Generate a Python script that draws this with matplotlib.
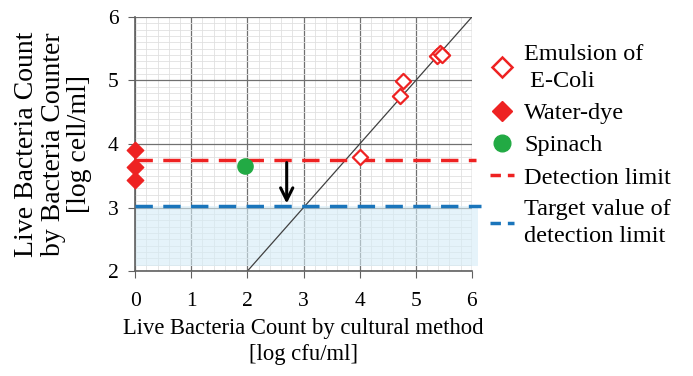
import matplotlib.pyplot as plt
from matplotlib.ticker import MultipleLocator
from matplotlib.lines import Line2D

plt.rcParams['font.family'] = ['Liberation Serif', 'DejaVu Serif']

# data
emul_x = [4.0, 4.72, 4.78, 5.38, 5.43, 5.47]
emul_y = [3.80, 4.75, 4.99, 5.39, 5.43, 5.40]
dye_x = [0, 0, 0]
dye_y = [3.90, 3.64, 3.43]
spin_x = [1.95]
spin_y = [3.66]
det_limit = 3.75
target_limit = 3.02
arrow_x = 2.7

fig = plt.figure(figsize=(6.93, 3.76), dpi=100)
ax = fig.add_axes([0.195, 0.279, 0.486, 0.676])
ax.set_xlim(0, 6)
ax.set_ylim(2, 6)
ax.xaxis.set_major_locator(MultipleLocator(1))
ax.yaxis.set_major_locator(MultipleLocator(1))
ax.xaxis.set_minor_locator(MultipleLocator(0.2))
ax.yaxis.set_minor_locator(MultipleLocator(0.1))
ax.grid(which='minor', color='#e0e0e0', lw=0.6)
ax.grid(which='major', color='#707070', lw=0.9)
ax.set_axisbelow(True)
for s in ['top', 'right']:
    ax.spines[s].set_visible(False)
for s in ['left', 'bottom']:
    ax.spines[s].set_color('#606060')
    ax.spines[s].set_linewidth(1.2)
ax.tick_params(which='major', direction='out', length=5, color='#606060', labelsize=15.5, pad=7)
ax.tick_params(axis='x', pad=10)
ax.tick_params(which='minor', length=0)

# shaded target region
ax.fill_between([0, 6.1], 2.08, target_limit, color='#d5ecf7', alpha=0.6, lw=0, clip_on=False, zorder=1)
# y = x
ax.plot([2, 6], [2, 6], color='#404040', lw=0.9, zorder=2)
ax.plot([0, 6.07], [det_limit, det_limit], color='#ee2222', lw=2.5, dashes=(5, 3), clip_on=False, zorder=3)
ax.plot([0, 6.17], [target_limit, target_limit], color='#1a75bb', lw=2.5, dashes=(5, 3), clip_on=False, zorder=3)
ax.annotate('', xy=(arrow_x, target_limit), xytext=(arrow_x, det_limit),
            arrowprops=dict(arrowstyle='->', color='black', lw=2.2, mutation_scale=22), zorder=4)

ax.scatter(emul_x, emul_y, marker='D', s=60, facecolor='white', edgecolor='#ee2222', lw=1.6, zorder=5)
ax.scatter(dye_x, dye_y, marker='D', s=70, color='#ee2222', clip_on=False, zorder=5)
ax.scatter(spin_x, spin_y, marker='o', s=120, color='#22aa44', zorder=5)

ax.set_xlabel('Live Bacteria Count by cultural method\n[log cfu/ml]', fontsize=16.3, linespacing=1.3, labelpad=5)
ax.set_ylabel('Live Bacteria Count\nby Bacteria Counter\n[log cell/ml]', fontsize=20, linespacing=1.1, labelpad=11)

handles = [
    Line2D([], [], marker='D', ls='none', ms=10, mfc='white', mec='#ee2222', mew=1.8),
    Line2D([], [], marker='D', ls='none', ms=10, color='#ee2222'),
    Line2D([], [], marker='o', ls='none', ms=12, color='#22aa44'),
    Line2D([], [], color='#ee2222', lw=2.5, dashes=(3, 2)),
    Line2D([], [], color='#1a75bb', lw=2.5, dashes=(3, 2)),
]
labels = ['Emulsion of\n E-Coli', 'Water-dye', 'Spinach', 'Detection limit', 'Target value of\ndetection limit']
leg = fig.legend(handles, labels, loc='upper left', bbox_to_anchor=(0.693, 0.91), frameon=False,
                 fontsize=17.5, handlelength=1.0, handletextpad=0.4, labelspacing=0.42, borderaxespad=0)
for t in leg.get_texts():
    t.set_linespacing(1.4)

fig.savefig('out.png', dpi=100)
